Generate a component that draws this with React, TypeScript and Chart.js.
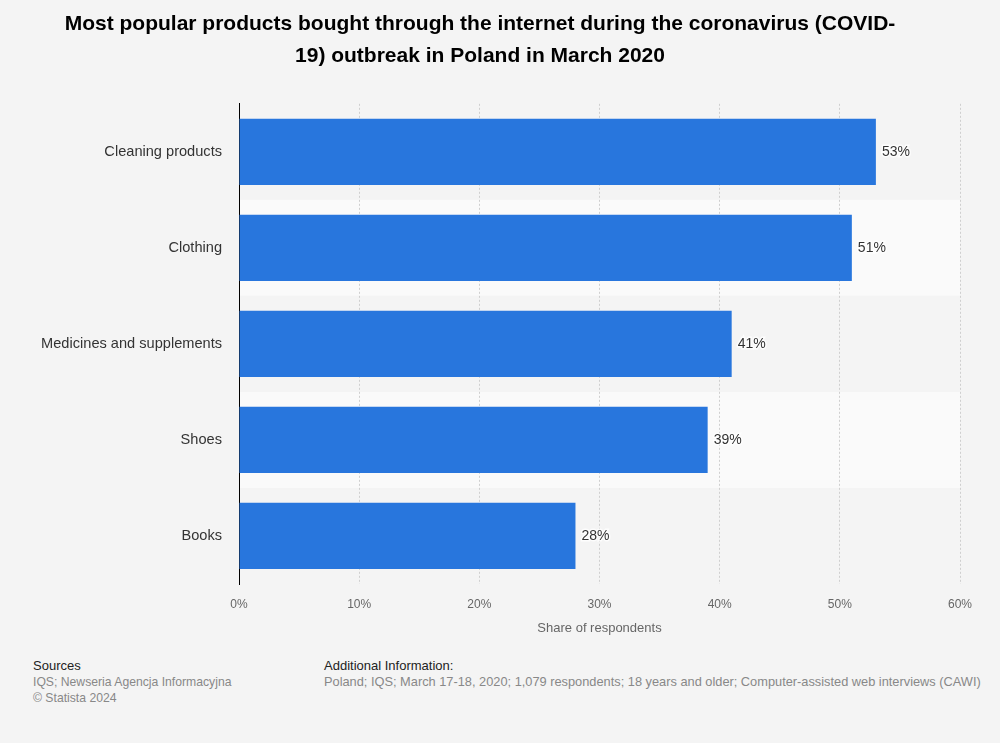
import React, { useEffect, useRef } from "react";
import { Chart, registerables } from "chart.js";

Chart.register(...registerables);

const categories = [
  "Cleaning products",
  "Clothing",
  "Medicines and supplements",
  "Shoes",
  "Books",
];
const values = [53, 51, 41, 39, 28];
const titleLines = [
  "Most popular products bought through the internet during the coronavirus (COVID-",
  "19) outbreak in Poland in March 2020",
];
const xAxisTitle = "Share of respondents";
const bandColors = ["#f4f4f4", "#fafafa"];
const FONT = "'Liberation Sans', Arial, Helvetica, sans-serif";

const bandsPlugin = {
  id: "bands",
  beforeDraw(chart: any) {
    const { ctx, chartArea, scales } = chart;
    const y = scales.y;
    const n = categories.length;
    const h = (chartArea.bottom - chartArea.top) / n;
    ctx.save();
    for (let i = 0; i < n; i++) {
      const c = y.getPixelForValue(i);
      ctx.fillStyle = bandColors[i % 2];
      ctx.fillRect(chartArea.left, c - h / 2, chartArea.right - chartArea.left, h);
    }
    ctx.restore();
  },
};

const valueLabelsPlugin = {
  id: "valueLabels",
  afterDatasetsDraw(chart: any) {
    const { ctx } = chart;
    const meta = chart.getDatasetMeta(0);
    ctx.save();
    ctx.font = `14px ${FONT}`;
    ctx.textBaseline = "middle";
    ctx.textAlign = "left";
    meta.data.forEach((bar: any, i: number) => {
      const txt = values[i] + "%";
      ctx.lineWidth = 3;
      ctx.strokeStyle = "rgba(255,255,255,0.8)";
      ctx.strokeText(txt, bar.x + 6, bar.y);
      ctx.fillStyle = "#333333";
      ctx.fillText(txt, bar.x + 6, bar.y);
    });
    ctx.restore();
  },
};

export default function App() {
  const ref = useRef<HTMLCanvasElement | null>(null);

  useEffect(() => {
    document.body.style.margin = "0";
    document.body.style.background = "#f4f4f4";
    if (!ref.current) return;
    const chart = new Chart(ref.current, {
      type: "bar",
      data: {
        labels: categories,
        datasets: [
          {
            data: values,
            backgroundColor: "#2876dd",
            borderWidth: 0,
            barPercentage: 0.69,
            categoryPercentage: 1.0,
          },
        ],
      },
      options: {
        indexAxis: "y",
        animation: false,
        responsive: false,
        maintainAspectRatio: false,
        layout: { padding: { left: 0, right: 40, top: 0, bottom: 14 } },
        plugins: {
          legend: { display: false },
          tooltip: { enabled: false },
          title: {
            display: true,
            text: titleLines,
            color: "#000000",
            font: { family: FONT, size: 21, weight: "bold", lineHeight: 1.52 },
            padding: { top: 8, bottom: 32 },
          },
        },
        scales: {
          x: {
            min: 0,
            max: 60,
            ticks: {
              stepSize: 10,
              callback: (v: any) => v + "%",
              color: "#666666",
              font: { family: FONT, size: 12 },
              padding: 13,
            },
            grid: { color: "#cfcfcf", drawTicks: false, lineWidth: 1 },
            border: { display: false, dash: [2, 2] },
            title: {
              display: true,
              text: xAxisTitle,
              color: "#666666",
              font: { family: FONT, size: 13 },
              padding: { top: -4, bottom: 0 },
            },
          },
          y: {
            ticks: {
              color: "#333333",
              font: { family: FONT, size: 14.6 },
              padding: 17,
            },
            grid: { display: false, drawTicks: false },
            border: { display: true, color: "#000000", width: 1 },
            afterFit: (scale: any) => {
              scale.width = 239;
            },
          },
        },
      },
      plugins: [bandsPlugin, valueLabelsPlugin],
    });
    return () => chart.destroy();
  }, []);

  const small: React.CSSProperties = {
    fontFamily: FONT,
    fontSize: 12.2,
    color: "#888888",
    lineHeight: "16px",
    whiteSpace: "nowrap",
  };
  const head: React.CSSProperties = {
    fontFamily: FONT,
    fontSize: 13,
    color: "#222222",
    lineHeight: "17px",
  };

  return (
    <div
      style={{
        position: "absolute",
        left: 0,
        top: 0,
        width: 1000,
        height: 743,
        background: "#f4f4f4",
        overflow: "hidden",
      }}
    >
      <canvas
        ref={ref}
        width={1000}
        height={650}
        style={{ position: "absolute", left: 0, top: 0, width: 1000, height: 650 }}
      />
      <div style={{ position: "absolute", left: 33, top: 657 }}>
        <div style={head}>Sources</div>
        <div style={small}>IQS; Newseria Agencja Informacyjna</div>
        <div style={small}>© Statista 2024</div>
      </div>
      <div style={{ position: "absolute", left: 324, top: 657 }}>
        <div style={head}>Additional Information:</div>
        <div style={{ ...small, fontSize: 12.8 }}>
          Poland; IQS; March 17-18, 2020; 1,079 respondents; 18 years and older; Computer-assisted web interviews (CAWI)
        </div>
      </div>
    </div>
  );
}
